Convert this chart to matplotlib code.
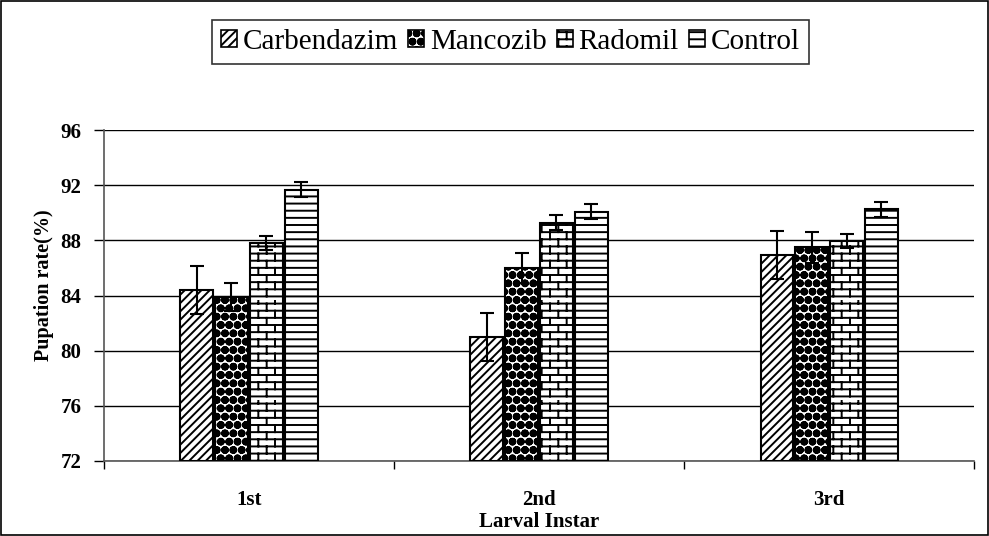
import matplotlib
matplotlib.use("Agg")
import matplotlib.pyplot as plt
import numpy as np
import warnings
from matplotlib.patches import Patch, Rectangle
from matplotlib import hatch as mhatch
from matplotlib.path import Path

warnings.filterwarnings("ignore")

categories = ["1st", "2nd", "3rd"]
series = ["Carbendazim", "Mancozib", "Radomil", "Control"]
carbendazim = [84.4, 81.0, 86.95]
mancozib = [83.9, 86.0, 87.5]
radomil = [87.8, 89.3, 87.95]
control = [91.7, 90.1, 90.25]
err_carbendazim = [1.75, 1.75, 1.75]
err_mancozib = [1.05, 1.1, 1.1]
err_radomil = [0.5, 0.55, 0.5]
err_control = [0.55, 0.55, 0.55]
yticks = [72, 76, 80, 84, 88, 92, 96]


# --- custom hatch styles (brick rows, dense horizontal rows, filled dots) ---
class RowHatch(mhatch.HatchPatternBase):
    ROWS = 14
    COLS = 6

    def __init__(self, hatch, density):
        self.brick = hatch.count("b") > 0
        self.rows = self.ROWS if (self.brick or hatch.count("h") > 0) else 0
        per_row = 1 + (self.COLS + 1 if self.brick else 0)
        self.num_vertices = self.rows * per_row * 2

    def set_vertices_and_codes(self, vertices, codes):
        h = 1.0 / self.rows
        w = 1.0 / self.COLS
        k = 0
        for r in range(self.rows):
            y = r * h + h / 2
            vertices[k] = (0, y); vertices[k + 1] = (1, y)
            codes[k] = Path.MOVETO; codes[k + 1] = Path.LINETO
            k += 2
            if self.brick:
                off = 0.0 if r % 2 == 0 else w / 2
                for c in range(self.COLS + 1):
                    xx = min(off + c * w, 1.0)
                    vertices[k] = (xx, y); vertices[k + 1] = (xx, y + h)
                    codes[k] = Path.MOVETO; codes[k + 1] = Path.LINETO
                    k += 2


class BigDots(mhatch.Circles):
    size = 0.28
    filled = True

    def __init__(self, hatch, density):
        self.num_rows = hatch.count("d") * density
        super().__init__(hatch, density)


mhatch._hatch_types.append(RowHatch)
mhatch._hatch_types.append(BigDots)

values = [carbendazim, mancozib, radomil, control]
errors = [err_carbendazim, err_mancozib, err_radomil, err_control]
hatches = ["////", "OOdd", "b", "h"]

plt.rcParams["font.family"] = ["Liberation Serif", "DejaVu Serif"]
plt.rcParams["hatch.linewidth"] = 1.4

fig = plt.figure(figsize=(9.89, 5.36), dpi=100)
fig.patches.append(Rectangle((0.001, 0.001), 0.998, 0.998, transform=fig.transFigure,
                             fill=False, edgecolor="black", linewidth=1.2))
ax = fig.add_axes([0.105, 0.140, 0.880, 0.617])

x = np.arange(len(categories))
step = 0.12
width = 0.113
for i, (vals, errs, h) in enumerate(zip(values, errors, hatches)):
    pos = x + (i - 1.5) * step
    ax.bar(pos, np.array(vals) - 72, bottom=72, width=width, facecolor="white",
           edgecolor="black", hatch=h, linewidth=1.5, zorder=3)
    ax.errorbar(pos, vals, yerr=errs, fmt="none", ecolor="black", elinewidth=1.5,
                capsize=5, capthick=1.5, zorder=4)

ax.set_ylim(72, 96)
ax.set_yticks(yticks)
ax.set_yticklabels([str(t) for t in yticks], fontsize=15, fontweight="bold")
ax.set_xlim(-0.5, 2.5)
ax.set_xticks([-0.5, 0.5, 1.5, 2.5])
ax.set_xticklabels([])
ax.set_xticks(x, minor=True)
ax.set_xticklabels(categories, minor=True, fontsize=15, fontweight="bold")
ax.tick_params(axis="x", which="major", direction="out", length=6, width=1)
ax.tick_params(axis="x", which="minor", length=0, pad=21)
ax.tick_params(axis="y", direction="out", length=7, width=1, pad=9)
ax.grid(axis="y", color="black", linewidth=1, zorder=0)
ax.set_axisbelow(True)
for s in ["top", "right"]:
    ax.spines[s].set_visible(False)
for s in ["left", "bottom"]:
    ax.spines[s].set_linewidth(1.2)
    ax.spines[s].set_color("#555555")

ax.set_ylabel("Pupation rate(%)", fontsize=14.5, fontweight="bold")
ax.yaxis.set_label_coords(-0.057, 0.53)
ax.set_xlabel("Larval Instar", fontsize=15, fontweight="bold")
ax.xaxis.set_label_coords(0.5, -0.155)

handles = [Patch(facecolor="white", edgecolor="black", hatch=h, linewidth=1.2) for h in hatches]
leg = fig.legend(handles, series, loc="center", bbox_to_anchor=(0.516, 0.922), ncol=4,
                 fontsize=21, frameon=True, fancybox=False, edgecolor="black",
                 handlelength=0.55, handleheight=0.55, handletextpad=0.2, columnspacing=0.35,
                 borderpad=0.3, borderaxespad=0)
leg.get_frame().set_linewidth(1.2)

fig.savefig("out.png", dpi=100)
